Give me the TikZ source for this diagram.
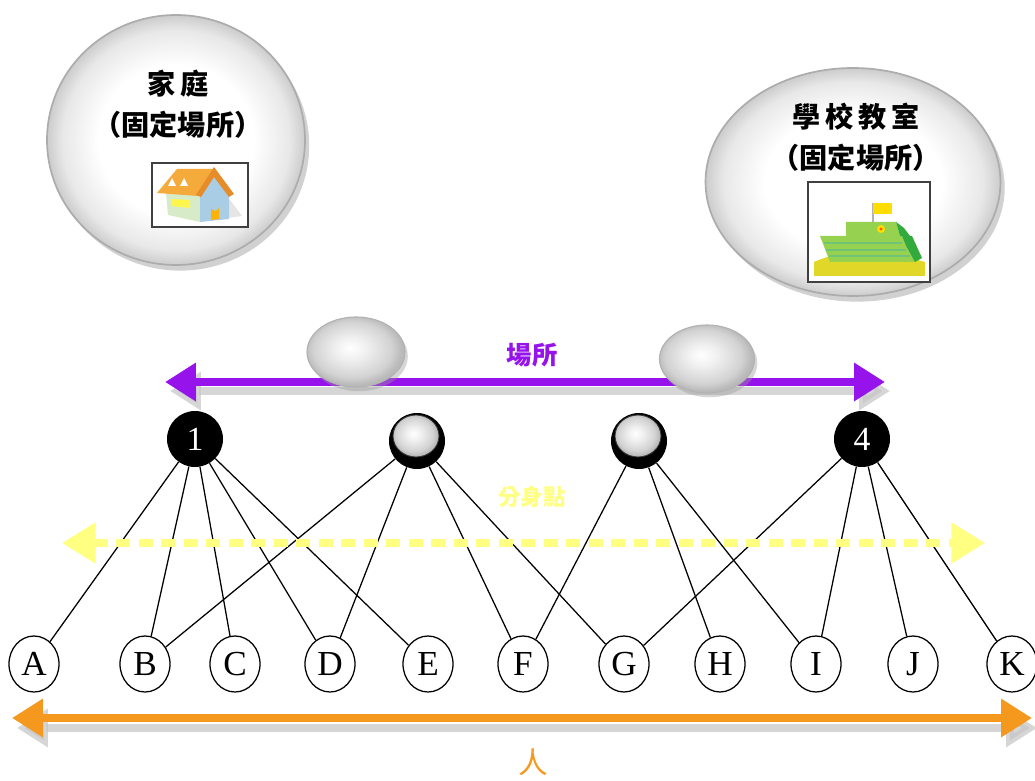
\documentclass[tikz,border=0pt]{standalone}
\usepackage{fontspec}
\setmainfont{Liberation Serif}
\newfontfamily\cjk{Noto Sans CJK TC}
\usetikzlibrary{shapes.geometric,arrows.meta,shadows,calc}

\definecolor{purp}{RGB}{150,20,235}
\definecolor{paleyel}{RGB}{255,255,130}
\definecolor{orng}{RGB}{245,152,30}
\definecolor{roof}{RGB}{245,170,60}
\definecolor{roofdark}{RGB}{230,140,40}
\definecolor{wallblue}{RGB}{170,205,230}
\definecolor{wallpale}{RGB}{215,235,200}
\definecolor{grnlight}{RGB}{150,210,80}
\definecolor{grndark}{RGB}{50,170,60}
\definecolor{ground}{RGB}{225,215,40}

% soft white-centred bubble with grey rim
\pgfdeclareradialshading{bubble}{\pgfpoint{0bp}{0bp}}{color(0bp)=(white); color(15bp)=(white); color(22bp)=(gray!18); color(25bp)=(gray!40); color(50bp)=(gray!40)}
% small grey pebble
\pgfdeclareradialshading{pebble}{\pgfpoint{-3bp}{3bp}}{color(0bp)=(white); color(8bp)=(gray!12); color(20bp)=(gray!35); color(25bp)=(gray!55); color(50bp)=(gray!55)}

\begin{document}
\begin{tikzpicture}[x=0.025cm,y=-0.025cm,
  place/.style={ellipse, draw=gray!65, line width=1.2pt, shading=bubble, inner sep=0pt,
    drop shadow={shadow xshift=3pt, shadow yshift=-4pt, opacity=0.45, fill=gray!80}},
  pebblenode/.style={ellipse, draw=gray!60, line width=0.8pt, shading=pebble, inner sep=0pt,
    drop shadow={shadow xshift=2pt, shadow yshift=-3pt, opacity=0.4, fill=gray!80}},
  hub/.style={ellipse, fill=black, inner sep=0pt, minimum width=56*0.025cm, minimum height=56*0.025cm,
    text=white, font=\fontsize{24}{24}\selectfont},
  hubtop/.style={ellipse, draw=gray!40!black, line width=0.6pt, shading=pebble, inner sep=0pt,
    minimum width=46*0.025cm, minimum height=42*0.025cm},
  person/.style={ellipse, draw=black, line width=0.9pt, fill=white, inner sep=0pt,
    minimum width=50*0.025cm, minimum height=56*0.025cm, font=\fontsize{25}{25}\selectfont},
  link/.style={draw=black, line width=0.9pt},
  iconbox/.style={draw=gray!50!black, line width=1pt, fill=white, inner sep=0pt},
  bigtxt/.style={font=\cjk\bfseries\fontsize{20}{29}\selectfont, align=center},
  thickarrow/.style={line width=5.5pt, {Triangle[length=22pt,width=26pt]}-{Triangle[length=22pt,width=26pt]}}
]
\useasboundingbox (0,0) rectangle (1035,781);
\fill[white] (0,0) rectangle (1035,781);

% ---------- fixed places ----------
\node[place, minimum width=258*0.025cm, minimum height=250*0.025cm] (home) at (176,140) {};
\node[bigtxt] (hometxt) at (178,104) {家\,庭\\（固定場所）};
\node[iconbox, minimum width=96*0.025cm, minimum height=64*0.025cm] (homeicon) at (200,195) {};

\node[place, minimum width=295*0.025cm, minimum height=228*0.025cm] (school) at (853,182) {};
\node[bigtxt] (schooltxt) at (856,137) {學\,校\,教\,室\\（固定場所）};
\node[iconbox, minimum width=122*0.025cm, minimum height=100*0.025cm] (schoolicon) at (869,232) {};

% house picture
\begin{scope}
  \fill[gray!20] (200,222) -- (242,216) -- (230,200) -- (228,200) -- cycle;
  \fill[wallpale] (166,193) -- (200,195) -- (200,222) -- (168,215) -- cycle;
  \fill[yellow!70] (171,199) -- (190,200) -- (190,208) -- (171,206) -- cycle;
  \fill[wallblue] (200,195) -- (214,176) -- (229,195) -- (229,219) -- (200,222) -- cycle;
  \fill[orange!60!yellow] (211,220) -- (211,207) arc[start angle=180,end angle=0,radius=4] -- (219,219) -- cycle;
  \fill[roof] (157,193) -- (177,169) -- (214,169) -- (198,196) -- cycle;
  \fill[roofdark] (214,167) -- (234,194) -- (229,197) -- (214,177) -- (201,197) -- (196,195) -- cycle;
  \fill[white] (168,186) -- (172,178) -- (176,186) -- cycle;
  \fill[white] (180,186) -- (184,178) -- (188,186) -- cycle;
\end{scope}

% school picture
\begin{scope}
  \fill[ground] (814,262) .. controls (845,248) and (885,250) .. (925,262) -- (925,276) -- (814,276) -- cycle;
  \fill[grnlight] (820,236) -- (902,236) -- (906,246) -- (915,262) -- (830,262) -- cycle;
  \fill[grndark] (902,236) -- (912,236) -- (922,258) -- (915,262) -- (906,246) -- cycle;
  \fill[grnlight] (846,222) -- (896,222) -- (900,236) -- (846,236) -- cycle;
  \fill[grndark] (896,222) -- (904,228) -- (910,236) -- (900,236) -- cycle;
  \draw[grndark!70, line width=1.2pt] (824,243) -- (902,243) (826,250) -- (906,250) (829,256) -- (910,256);
  \draw[gray!60, line width=1pt] (873,222) -- (873,203);
  \fill[yellow!80!orange] (873,203) -- (892,203) -- (892,214) -- (873,214) -- cycle;
  \fill[yellow!80!orange] (881,229) circle[radius=4];
  \fill[orange!70!red] (881,229) circle[radius=1.6];
\end{scope}

% ---------- place axis ----------
\coordinate (pl) at (165,382);
\coordinate (pr) at (885,382);
\draw[thickarrow, gray!45, opacity=0.7] ($(pl)+(5,9)$) -- ($(pr)+(5,9)$);
\draw[thickarrow, purp] (pl) -- (pr);
\node[font=\cjk\bfseries\fontsize{18}{18}\selectfont, text=purp] (placelbl) at (532,355) {場所};

\node[pebblenode, minimum width=98*0.025cm, minimum height=70*0.025cm] (pa) at (356,352) {};
\node[pebblenode, minimum width=95*0.025cm, minimum height=68*0.025cm] (pb) at (707,359) {};

% ---------- hubs ----------
\node[hub] (h1) at (195,439) {1};
\node[hub] (h2) at (417,441) {};
\node[hubtop] (h2top) at (416,436) {};
\node[hub] (h3) at (639,441) {};
\node[hubtop] (h3top) at (638,436) {};
\node[hub] (h4) at (862,439) {4};

% ---------- split-point axis ----------
\coordinate (yl) at (62,543);
\coordinate (yr) at (985,543);

% ---------- persons ----------
\foreach \n/\x in {A/34,B/145,C/235,D/330,E/428,F/523,G/624,H/720,I/816,J/913,K/1012}
  \node[person] (\n) at (\x,664) {\n};

% ---------- links ----------
\foreach \a/\b in {h1/A,h1/B,h1/C,h1/D,h1/E,h2/B,h2/D,h2/F,h2/G,h3/F,h3/H,h3/I,h4/G,h4/I,h4/J,h4/K}
  \draw[link] (\a) -- (\b);

\draw[paleyel, line width=5.5pt, dash pattern=on 10pt off 6pt,
  {Triangle[length=24pt,width=28pt]}-{Triangle[length=24pt,width=28pt]}] (yl) -- (yr);
\node[font=\cjk\bfseries\fontsize{16}{16}\selectfont, text=paleyel] (splitlbl) at (532,497) {分身點};

% ---------- person axis ----------
\coordinate (ol) at (12,718);
\coordinate (or) at (1032,718);
\draw[thickarrow, gray!45, opacity=0.7] ($(ol)+(5,10)$) -- ($(or)+(5,10)$);
\draw[thickarrow, orng] (ol) -- (or);
\node[font=\cjk\fontsize{21}{21}\selectfont, text=orng] (personlbl) at (533,762) {人};
\end{tikzpicture}
\end{document}
